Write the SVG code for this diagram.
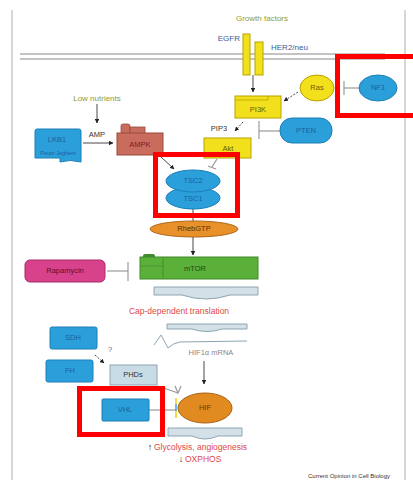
<svg xmlns="http://www.w3.org/2000/svg" width="413" height="480" viewBox="0 0 413 480">
<defs>
<marker id="ah" viewBox="0 0 10 10" refX="9" refY="5" markerWidth="5" markerHeight="5" orient="auto-start-reverse"><path d="M0,0 L10,5 L0,10 z" fill="#222"/></marker>
<style>
text{font-family:"Liberation Sans",Arial,sans-serif;font-size:7.5px;text-anchor:middle;dominant-baseline:middle}
.blue{fill:#2b9fd9;stroke:#1c7fb8;stroke-width:1}
.bt{fill:#1f5e9e}
.yel{fill:#f3e01c;stroke:#b9a200;stroke-width:1}
.yt{fill:#6a5c00}
.con{fill:none;stroke:#333;stroke-width:0.9}
.inh{fill:none;stroke:#999;stroke-width:1.2}
.dash{fill:none;stroke:#333;stroke-width:0.9;stroke-dasharray:2 1.5}
.mrna{fill:#d3e0e8;stroke:#8ea4b2;stroke-width:1}
.hl{fill:none;stroke:#f00;stroke-width:5}
.red{fill:#e04848;font-size:8.5px}
.green{fill:#8c9c3c;font-size:8px}
</style>
</defs>
<rect width="413" height="480" fill="#fff"/>
<g id="frame">
<line x1="12" y1="10" x2="12" y2="480" stroke="#bbb" stroke-width="1.2"/>
<line x1="405" y1="10" x2="405" y2="480" stroke="#bbb" stroke-width="1.2"/>
<line x1="20" y1="54" x2="385" y2="54" stroke="#888" stroke-width="1"/>
<line x1="20" y1="59" x2="385" y2="59" stroke="#888" stroke-width="1"/>
</g>
<g id="connectors">
<line x1="253" y1="75" x2="253" y2="92" class="con" marker-end="url(#ah)"/>
<line x1="298" y1="92" x2="284" y2="101" class="dash" marker-end="url(#ah)"/>
<line x1="359" y1="88" x2="344" y2="88" class="inh"/>
<line x1="344" y1="81" x2="344" y2="95" class="inh"/>
<line x1="243" y1="122" x2="235" y2="131" class="dash" marker-end="url(#ah)"/>
<line x1="280" y1="131" x2="259" y2="131" class="inh"/>
<line x1="259" y1="121" x2="259" y2="139" class="inh"/>
<line x1="97" y1="104" x2="97" y2="123" class="con" marker-end="url(#ah)"/>
<line x1="83" y1="143" x2="113" y2="143" class="con" marker-end="url(#ah)"/>
<line x1="161" y1="157" x2="174" y2="169" class="con" marker-end="url(#ah)"/>
<line x1="217" y1="159" x2="212" y2="167" class="inh"/>
<line x1="208" y1="166" x2="216" y2="169" class="inh"/>
<line x1="193" y1="208" x2="193" y2="222" class="con"/>
<line x1="193" y1="237" x2="193" y2="255" class="con" marker-end="url(#ah)"/>
<line x1="107" y1="271" x2="128" y2="271" class="inh"/>
<line x1="128" y1="262" x2="128" y2="281" class="inh"/>
<line x1="95" y1="355" x2="104" y2="363" class="dash" marker-end="url(#ah)"/>
<line x1="204" y1="361" x2="204" y2="384" class="con" marker-end="url(#ah)"/>
<path d="M158,386 L178,393 M175,386 L178,393 L181,386" class="inh"/>
<line x1="149" y1="410" x2="176" y2="410" class="inh"/>
<line x1="176" y1="398" x2="176" y2="404" stroke="#f0d000" stroke-width="1.5"/>
<line x1="176" y1="404" x2="176" y2="411" stroke="#40a0e0" stroke-width="1.5"/>
<line x1="176" y1="411" x2="176" y2="418" stroke="#f0d000" stroke-width="1.5"/>
</g>
<g id="growth-factors"><text x="262" y="19" class="green">Growth factors</text></g>
<g id="egfr">
<rect x="243" y="34" width="7" height="41" class="yel"/>
<text x="240" y="39" style="text-anchor:end;fill:#3a5a9a;font-size:8px">EGFR</text>
</g>
<g id="her2">
<rect x="255" y="42" width="8" height="33" class="yel"/>
<text x="271" y="48" style="text-anchor:start;fill:#3a5a9a;font-size:8px">HER2/neu</text>
</g>
<g id="ras"><ellipse cx="317" cy="88" rx="17" ry="13" class="yel"/><text x="317" y="88" class="yt">Ras</text></g>
<g id="nf1"><ellipse cx="378" cy="88" rx="19" ry="13" class="blue"/><text x="378" y="88" class="bt">NF1</text></g>
<g id="pi3k">
<rect x="235" y="96" width="46" height="22" class="yel"/>
<line x1="235" y1="100" x2="268" y2="100" stroke="#b9a200" stroke-width="0.8"/>
<line x1="268" y1="96" x2="268" y2="100" stroke="#b9a200" stroke-width="0.8"/>
<text x="258" y="110" class="yt">PI3K</text>
</g>
<g id="pten"><rect x="280" y="118" width="52" height="25" rx="12" class="blue"/><text x="306" y="131" class="bt">PTEN</text></g>
<g id="pip3"><text x="219" y="129" style="fill:#333">PIP3</text></g>
<g id="akt"><rect x="204" y="138" width="47" height="20" class="yel"/><text x="228" y="149" class="yt">Akt</text></g>
<g id="low-nutrients"><text x="97" y="99" class="green">Low nutrients</text></g>
<g id="amp"><text x="97" y="135" style="fill:#333">AMP</text></g>
<g id="lkb1">
<path d="M35,131 Q35,129 37,129 L79,129 Q81,129 81,131 L81,162 Q70,159 60,162 L60,158 L35,158 Z" class="blue"/>
<text x="57" y="140" class="bt">LKB1</text>
<text x="58" y="154" class="bt" style="font-size:5.5px">Peutz-Jeghers</text>
</g>
<g id="ampk">
<rect x="121" y="124" width="9" height="10" rx="2" fill="#c96c5e" stroke="#9a4a3c" stroke-width="0.8"/>
<rect x="130" y="127" width="15" height="7" fill="#c96c5e" stroke="#9a4a3c" stroke-width="0.8"/>
<rect x="117" y="133" width="46" height="22" fill="#c96c5e" stroke="#9a4a3c" stroke-width="1"/>
<text x="140" y="145" style="fill:#7a1e1e">AMPK</text>
</g>
<g id="tsc">
<ellipse cx="193" cy="198" rx="27" ry="11" class="blue"/>
<ellipse cx="193" cy="181" rx="27" ry="11" class="blue"/>
<text x="193" y="181" class="bt">TSC2</text>
<text x="193" y="199" class="bt">TSC1</text>
</g>
<g id="rheb"><ellipse cx="194" cy="229" rx="44" ry="8" fill="#e8912a" stroke="#b0661a" stroke-width="1"/><text x="194" y="229" style="fill:#5a3000">RhebGTP</text></g>
<g id="rapamycin"><rect x="25" y="260" width="80" height="22" rx="5" fill="#d8428c" stroke="#a82a68" stroke-width="1"/><text x="65" y="271" style="fill:#5a1030">Rapamycin</text></g>
<g id="mtor">
<rect x="143" y="254" width="12" height="7" rx="2" fill="#3f8a2a"/>
<rect x="140" y="257" width="118" height="22" fill="#5bb03a" stroke="#3f8a2a" stroke-width="1"/>
<line x1="163" y1="257" x2="163" y2="279" stroke="#3f8a2a" stroke-width="0.8"/>
<line x1="140" y1="266" x2="163" y2="266" stroke="#3f8a2a" stroke-width="0.6"/>
<text x="195" y="269" style="fill:#1f4a10">mTOR</text>
</g>
<g id="mrna1"><path d="M154,287 L258,287 L258,295 L230,295 Q206,303 182,295 L154,295 Z" class="mrna"/></g>
<g id="cap-translation"><text x="179" y="312" class="red">Cap-dependent translation</text></g>
<g id="mrna2">
<path d="M167,324 L247,324 L247,329 L222,329 Q207,334 192,329 L167,329 Z" class="mrna"/>
<path d="M154,345 L161,335 L168,348 Q173,343 180,342 L247,341" fill="none" stroke="#8ea4b2" stroke-width="1"/>
</g>
<g id="hif-mrna"><text x="211" y="353" style="fill:#888">HIF1α mRNA</text></g>
<g id="sdh"><rect x="50" y="327" width="47" height="22" rx="2" class="blue"/><text x="73" y="338" class="bt">SDH</text></g>
<g id="fh"><rect x="46" y="360" width="47" height="22" rx="2" class="blue"/><text x="70" y="371" class="bt">FH</text></g>
<g id="q"><text x="110" y="350" style="fill:#666">?</text></g>
<g id="phds"><rect x="110" y="365" width="47" height="20" fill="#c8dce6" stroke="#8ea4b2" stroke-width="1"/><text x="133" y="375" style="fill:#333">PHDs</text></g>
<g id="vhl"><rect x="102" y="399" width="47" height="22" rx="1" class="blue"/><text x="125" y="410" class="bt">VHL</text></g>
<g id="hif"><ellipse cx="205" cy="408" rx="27" ry="15" fill="#e08a20" stroke="#a8600e" stroke-width="1"/><text x="205" y="408" style="fill:#6a3a00">HIF</text></g>
<g id="dna"><path d="M168,428 L242,428 L242,436 L218,436 Q205,442 192,436 L168,436 Z" class="mrna"/></g>
<g id="outputs">
<text x="150" y="448" style="fill:#222;font-size:9px;font-weight:bold">↑</text>
<text x="154" y="448" class="red" style="text-anchor:start">Glycolysis, angiogenesis</text>
<text x="181" y="460" style="fill:#222;font-size:9px;font-weight:bold">↓</text>
<text x="185" y="460" class="red" style="text-anchor:start">OXPHOS</text>
</g>
<g id="credit"><text x="349" y="476" style="font-size:6px;fill:#333">Current Opinion in Cell Biology</text></g>
<g id="highlights">
<rect x="337.5" y="56.5" width="80" height="59" class="hl"/>
<rect x="155.5" y="154.5" width="82" height="61" class="hl"/>
<rect x="79.5" y="388.5" width="83" height="46" class="hl"/>
</g>
</svg>
